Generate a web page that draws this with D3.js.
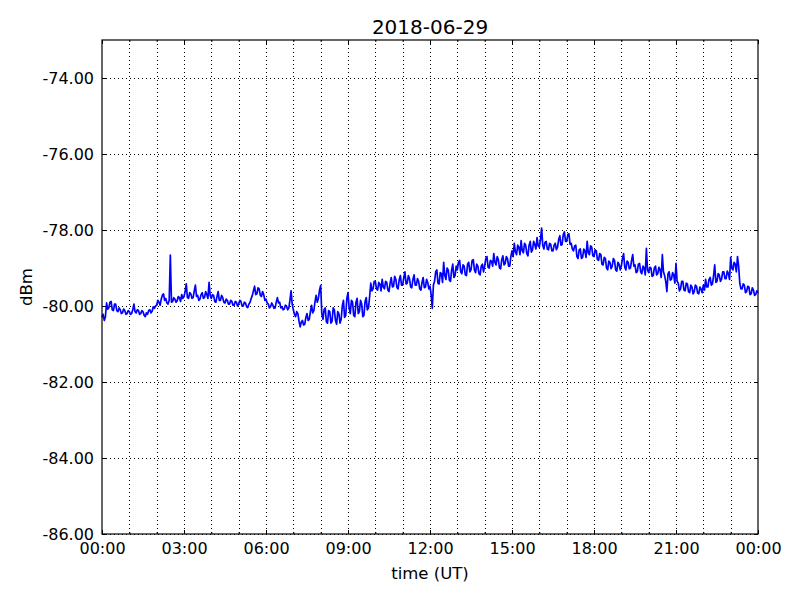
<!DOCTYPE html>
<html>
<head>
<meta charset="utf-8">
<script src="https://cdn.jsdelivr.net/npm/d3@7"></script>
<style>
  body { margin: 0; background: #fff; }
  text { font-family: "DejaVu Sans", sans-serif; }
</style>
</head>
<body>
<div id="wrapper"></div>
<script>
// # Data: signal level every 2.5 minutes (one row per hour)
const chartTitle = "2018-06-29";
const startTime = "2018-06-29T00:00:00Z";
const stepSeconds = 150;
const levels = [
  -80.30, -80.22, -80.38, -80.28, -79.92, -80.08, -80.05, -79.90, -79.88, -80.10, -80.12, -79.95, -79.95, -80.12, -80.15, -80.05, -80.10, -80.20, -80.18, -80.08, -80.12, -80.22, -80.20, -80.12,
  -80.15, -80.22, -80.20, -80.10, -79.95, -80.15, -80.18, -80.10, -80.12, -80.22, -80.20, -80.12, -80.15, -80.24, -80.28, -80.18, -80.22, -80.12, -80.10, -80.18, -80.14, -80.02, -80.06, -80.00,
  -79.98, -79.85, -79.90, -79.98, -79.82, -79.72, -79.68, -79.85, -79.80, -79.92, -79.95, -79.85, -78.66, -79.90, -79.88, -79.78, -79.82, -79.90, -79.86, -79.75, -79.78, -79.88, -79.70, -79.80,
  -79.75, -79.62, -79.42, -79.78, -79.80, -79.65, -79.68, -79.80, -79.78, -79.60, -79.45, -79.75, -79.72, -79.85, -79.82, -79.70, -79.65, -79.80, -79.78, -79.62, -79.70, -79.80, -79.38, -79.72,
  -79.80, -79.70, -79.72, -79.88, -79.90, -79.75, -79.62, -79.85, -79.85, -79.72, -79.78, -79.90, -79.92, -79.82, -79.85, -79.95, -79.95, -79.85, -79.88, -79.98, -79.98, -79.88, -79.90, -80.00,
  -79.95, -79.85, -79.88, -80.00, -80.00, -79.90, -79.92, -80.02, -80.04, -79.95, -79.90, -79.80, -79.72, -79.60, -79.48, -79.70, -79.68, -79.52, -79.55, -79.72, -79.75, -79.62, -79.70, -79.85,
  -79.82, -79.92, -79.95, -80.05, -80.02, -79.92, -79.98, -80.06, -80.05, -79.90, -79.78, -79.92, -79.90, -80.05, -80.02, -80.10, -80.08, -79.98, -80.00, -80.10, -80.06, -79.85, -79.60, -79.95,
  -80.10, -80.22, -80.28, -80.15, -80.20, -80.40, -80.55, -80.42, -80.38, -80.50, -80.48, -80.30, -80.20, -80.38, -80.35, -80.15, -79.98, -80.18, -80.12, -79.90, -79.72, -79.90, -79.80, -79.58,
  -79.46, -80.20, -80.35, -80.10, -80.05, -80.42, -80.45, -80.12, -80.15, -80.45, -80.40, -80.05, -80.10, -80.38, -80.48, -80.15, -80.20, -80.45, -80.35, -80.00, -79.85, -80.30, -80.25, -79.80,
  -79.65, -80.05, -80.20, -79.85, -79.90, -80.25, -80.28, -79.90, -79.80, -80.20, -80.15, -79.85, -79.95, -80.28, -80.25, -79.88, -79.78, -80.10, -80.05, -79.75, -79.40, -79.60, -79.55, -79.35,
  -79.35, -79.55, -79.58, -79.38, -79.42, -79.60, -79.30, -79.50, -79.55, -79.35, -79.38, -79.58, -79.62, -79.40, -79.25, -79.50, -79.48, -79.22, -79.30, -79.52, -79.55, -79.30, -79.20, -79.45,
  -79.45, -79.25, -79.10, -79.42, -79.40, -79.20, -79.28, -79.50, -79.52, -79.30, -79.18, -79.45, -79.45, -79.28, -79.35, -79.55, -79.58, -79.38, -79.25, -79.52, -79.50, -79.30, -79.38, -79.55,
  -79.48, -79.70, -80.06, -79.45, -79.35, -79.10, -79.05, -79.40, -79.42, -79.12, -79.15, -79.38, -78.85, -79.20, -79.30, -79.00, -79.05, -79.32, -79.35, -79.05, -78.90, -79.25, -79.20, -78.95,
  -79.05, -78.85, -78.80, -79.10, -79.15, -78.92, -78.95, -79.18, -79.20, -78.90, -78.85, -79.10, -79.05, -78.80, -78.78, -79.05, -79.12, -78.90, -78.95, -79.15, -79.18, -78.95, -78.90, -79.10,
  -78.95, -78.75, -78.70, -78.98, -79.00, -78.80, -78.82, -78.95, -78.62, -78.85, -78.92, -78.70, -78.78, -79.00, -79.02, -78.78, -78.68, -78.92, -78.88, -78.70, -78.75, -78.95, -78.95, -78.70,
  -78.55, -78.70, -78.35, -78.58, -78.65, -78.40, -78.45, -78.65, -78.28, -78.55, -78.60, -78.35, -78.40, -78.62, -78.68, -78.40, -78.30, -78.58, -78.52, -78.30, -78.38, -78.50, -78.20, -78.42,
  -78.45, -78.25, -77.95, -78.40, -78.50, -78.32, -78.30, -78.50, -78.52, -78.35, -78.38, -78.55, -78.55, -78.40, -78.35, -78.52, -78.45, -78.25, -78.15, -78.40, -78.38, -78.12, -78.05, -78.30,
  -78.30, -78.12, -78.10, -78.38, -78.35, -78.50, -78.55, -78.42, -78.40, -78.70, -78.75, -78.52, -78.50, -78.75, -78.72, -78.50, -78.55, -78.72, -78.30, -78.60, -78.65, -78.42, -78.45, -78.68,
  -78.70, -78.52, -78.55, -78.78, -78.80, -78.62, -78.65, -78.90, -78.92, -78.72, -78.75, -79.00, -79.05, -78.82, -78.85, -79.02, -78.95, -78.75, -78.80, -79.05, -79.08, -78.85, -78.90, -79.05,
  -78.95, -78.75, -78.62, -78.98, -79.05, -78.82, -78.85, -79.02, -79.00, -78.80, -78.65, -78.95, -78.92, -79.12, -79.10, -78.90, -78.88, -79.10, -79.15, -78.95, -79.00, -79.18, -78.48, -79.05,
  -79.12, -78.98, -79.00, -79.22, -79.20, -79.00, -78.95, -79.18, -79.15, -78.98, -79.05, -79.25, -78.65, -79.10, -79.20, -79.35, -79.62, -79.15, -79.10, -79.32, -79.30, -79.12, -79.18, -79.40,
  -78.88, -79.35, -79.40, -79.60, -79.55, -79.35, -79.35, -79.58, -79.60, -79.40, -79.42, -79.62, -79.65, -79.45, -79.50, -79.68, -79.62, -79.45, -79.48, -79.66, -79.68, -79.50, -79.55, -79.65,
  -79.45, -79.58, -79.30, -79.50, -79.50, -79.30, -79.25, -79.45, -79.42, -79.20, -78.92, -79.38, -79.35, -79.15, -79.18, -79.35, -79.30, -79.10, -79.10, -79.28, -79.28, -79.08, -79.15, -79.30,
  -78.72, -79.00, -79.05, -78.85, -78.90, -79.10, -78.70, -78.95, -79.40, -79.55, -79.55, -79.42, -79.45, -79.65, -79.62, -79.48, -79.50, -79.70, -79.68, -79.52, -79.58, -79.72, -79.70, -79.60,
  -79.65
];
const yTicks = [-86, -84, -82, -80, -78, -76, -74];
const yDomain = [-86, -73];

function drawChart() {
  // # Dimensions
  const dimensions = {
    width: 800,
    height: 600,
    margin: { top: 40, right: 42, bottom: 66, left: 102 },
  };
  dimensions.boundedWidth = dimensions.width - dimensions.margin.left - dimensions.margin.right;
  dimensions.boundedHeight = dimensions.height - dimensions.margin.top - dimensions.margin.bottom;

  const t0 = new Date(startTime);
  const dataset = levels.map((v, i) => ({ time: d3.utcSecond.offset(t0, i * stepSeconds), value: v }));
  const xAccessor = d => d.time;
  const yAccessor = d => d.value;

  // # Canvas
  const wrapper = d3.select("#wrapper")
    .append("svg")
    .attr("width", dimensions.width)
    .attr("height", dimensions.height);

  const bounds = wrapper.append("g")
    .attr("transform", `translate(${dimensions.margin.left},${dimensions.margin.top})`);

  // # Scales
  const xScale = d3.scaleUtc()
    .domain([t0, d3.utcDay.offset(t0, 1)])
    .range([0, dimensions.boundedWidth]);

  const yScale = d3.scaleLinear()
    .domain(yDomain)
    .range([dimensions.boundedHeight, 0]);

  const majorTimes = xScale.ticks(d3.utcHour.every(3));
  const minorTimes = xScale.ticks(d3.utcHour.every(1));

  // # Grid (dotted, every hour and every y tick)
  const grid = bounds.append("g")
    .attr("stroke", "black")
    .attr("stroke-width", 1)
    .attr("stroke-dasharray", "1,3");
  grid.selectAll(".vgrid")
    .data(minorTimes.filter(t => xScale(t) > 0 && xScale(t) < dimensions.boundedWidth))
    .join("line")
    .attr("x1", d => Math.round(xScale(d)) + 0.5)
    .attr("x2", d => Math.round(xScale(d)) + 0.5)
    .attr("y1", 0)
    .attr("y2", dimensions.boundedHeight);
  grid.selectAll(".hgrid")
    .data(yTicks)
    .join("line")
    .attr("x1", 0)
    .attr("x2", dimensions.boundedWidth)
    .attr("y1", d => Math.round(yScale(d)) + 0.5)
    .attr("y2", d => Math.round(yScale(d)) + 0.5);

  // # Line
  const lineGenerator = d3.line()
    .x(d => xScale(xAccessor(d)))
    .y(d => yScale(yAccessor(d)));

  bounds.append("path")
    .attr("d", lineGenerator(dataset))
    .attr("fill", "none")
    .attr("stroke", "#0000ff")
    .attr("stroke-width", 1.7)
    .attr("stroke-linejoin", "round");

  // # Axes (ticks point inwards, mirrored on top/right)
  const fmtTime = d3.utcFormat("%H:%M");
  const fmtY = d => d.toFixed(2);

  const xBottom = bounds.append("g")
    .attr("transform", `translate(0,${dimensions.boundedHeight})`)
    .call(d3.axisBottom(xScale).tickValues(majorTimes).tickFormat(fmtTime).tickSizeInner(-4).tickSizeOuter(0).tickPadding(9));
  const xBottomMinor = bounds.append("g")
    .attr("transform", `translate(0,${dimensions.boundedHeight})`)
    .call(d3.axisBottom(xScale).tickValues(minorTimes).tickFormat("").tickSizeInner(-2).tickSizeOuter(0));
  const xTop = bounds.append("g")
    .call(d3.axisTop(xScale).tickValues(majorTimes).tickFormat("").tickSizeInner(-4).tickSizeOuter(0));
  const xTopMinor = bounds.append("g")
    .call(d3.axisTop(xScale).tickValues(minorTimes).tickFormat("").tickSizeInner(-2).tickSizeOuter(0));
  const yLeft = bounds.append("g")
    .call(d3.axisLeft(yScale).tickValues(yTicks).tickFormat(fmtY).tickSizeInner(-4).tickSizeOuter(0).tickPadding(8));
  const yRight = bounds.append("g")
    .attr("transform", `translate(${dimensions.boundedWidth},0)`)
    .call(d3.axisRight(yScale).tickValues(yTicks).tickFormat("").tickSizeInner(-4).tickSizeOuter(0));

  [xBottom, xBottomMinor, xTop, xTopMinor, yLeft, yRight].forEach(ax => {
    ax.select(".domain").remove();
    ax.selectAll("text")
      .attr("fill", "black")
      .style("font-size", "16px")
      .style("font-family", "DejaVu Sans, sans-serif");
    ax.selectAll("line").attr("stroke", "black");
  });

  // frame
  bounds.append("rect")
    .attr("x", 0)
    .attr("y", 0)
    .attr("width", dimensions.boundedWidth)
    .attr("height", dimensions.boundedHeight)
    .attr("fill", "none")
    .attr("stroke", "black")
    .attr("stroke-width", 1.2);

  // # Labels
  wrapper.append("text")
    .attr("x", dimensions.margin.left + dimensions.boundedWidth / 2)
    .attr("y", 34)
    .attr("text-anchor", "middle")
    .style("font-size", "20px")
    .text(chartTitle);

  wrapper.append("text")
    .attr("x", dimensions.margin.left + dimensions.boundedWidth / 2)
    .attr("y", 579)
    .attr("text-anchor", "middle")
    .style("font-size", "16.5px")
    .text("time (UT)");

  wrapper.append("text")
    .attr("transform", `translate(32,${dimensions.margin.top + dimensions.boundedHeight / 2}) rotate(-90)`)
    .attr("text-anchor", "middle")
    .style("font-size", "16.5px")
    .text("dBm");
}
drawChart();
</script>
</body>
</html>
